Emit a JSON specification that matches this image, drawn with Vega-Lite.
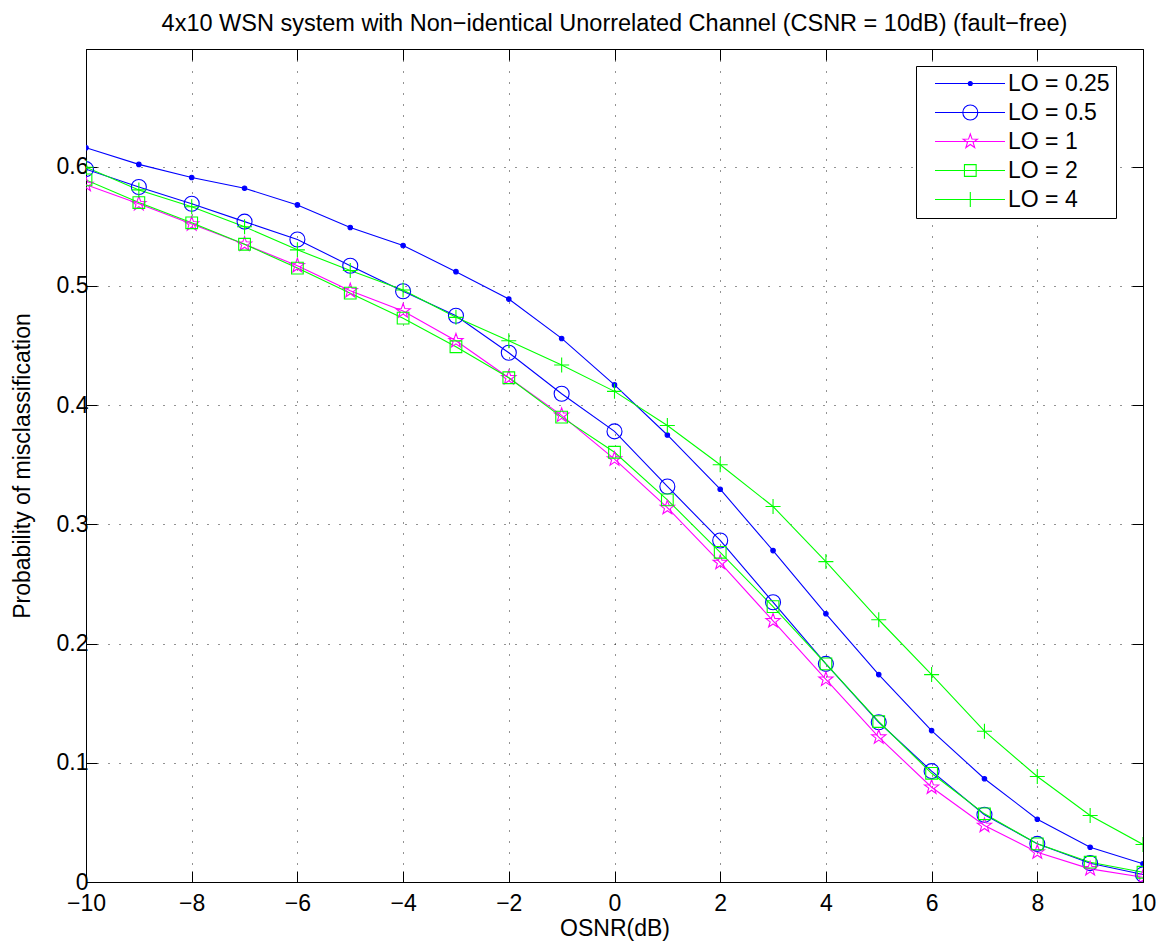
{
  "$schema": "https://vega.github.io/schema/vega-lite/v6.json",
  "width": 1057,
  "height": 833,
  "autosize": "none",
  "padding": {"left": 86, "top": 49, "right": 15, "bottom": 62},
  "background": "white",
  "title": {"text": "4x10 WSN system with Non\u2212identical Unorrelated Channel (CSNR = 10dB) (fault\u2212free)", "font": "Liberation Sans", "fontSize": 23.5, "fontWeight": "normal", "color": "#000", "anchor": "middle", "offset": 13},
  "config": {
    "view": {"stroke": "#000", "strokeWidth": 1},
    "axis": {"labelFont": "Liberation Sans", "labelFontSize": 23, "labelColor": "#000", "titleFont": "Liberation Sans", "titleFontSize": 23, "titleFontWeight": "normal", "titleColor": "#000", "domainColor": "#000", "tickColor": "#000", "tickSize": -11, "gridColor": "#000", "gridOpacity": 0.85, "gridDash": [1, 10], "gridWidth": 1}
  },
  "data": {"values": [
    {"x": -10, "y": 0.616, "s": "LO = 0.25"}, {"x": -9, "y": 0.602, "s": "LO = 0.25"}, {"x": -8, "y": 0.591, "s": "LO = 0.25"}, {"x": -7, "y": 0.582, "s": "LO = 0.25"}, {"x": -6, "y": 0.568, "s": "LO = 0.25"}, {"x": -5, "y": 0.549, "s": "LO = 0.25"}, {"x": -4, "y": 0.534, "s": "LO = 0.25"}, {"x": -3, "y": 0.512, "s": "LO = 0.25"}, {"x": -2, "y": 0.489, "s": "LO = 0.25"}, {"x": -1, "y": 0.456, "s": "LO = 0.25"}, {"x": 0, "y": 0.417, "s": "LO = 0.25"}, {"x": 1, "y": 0.375, "s": "LO = 0.25"}, {"x": 2, "y": 0.3295, "s": "LO = 0.25"}, {"x": 3, "y": 0.278, "s": "LO = 0.25"}, {"x": 4, "y": 0.225, "s": "LO = 0.25"}, {"x": 5, "y": 0.174, "s": "LO = 0.25"}, {"x": 6, "y": 0.127, "s": "LO = 0.25"}, {"x": 7, "y": 0.0866, "s": "LO = 0.25"}, {"x": 8, "y": 0.0527, "s": "LO = 0.25"}, {"x": 9, "y": 0.0292, "s": "LO = 0.25"}, {"x": 10, "y": 0.0153, "s": "LO = 0.25"},
    {"x": -10, "y": 0.598, "s": "LO = 0.5"}, {"x": -9, "y": 0.583, "s": "LO = 0.5"}, {"x": -8, "y": 0.569, "s": "LO = 0.5"}, {"x": -7, "y": 0.554, "s": "LO = 0.5"}, {"x": -6, "y": 0.539, "s": "LO = 0.5"}, {"x": -5, "y": 0.517, "s": "LO = 0.5"}, {"x": -4, "y": 0.4956, "s": "LO = 0.5"}, {"x": -3, "y": 0.475, "s": "LO = 0.5"}, {"x": -2, "y": 0.444, "s": "LO = 0.5"}, {"x": -1, "y": 0.4096, "s": "LO = 0.5"}, {"x": 0, "y": 0.378, "s": "LO = 0.5"}, {"x": 1, "y": 0.3318, "s": "LO = 0.5"}, {"x": 2, "y": 0.2865, "s": "LO = 0.5"}, {"x": 3, "y": 0.2347, "s": "LO = 0.5"}, {"x": 4, "y": 0.183, "s": "LO = 0.5"}, {"x": 5, "y": 0.134, "s": "LO = 0.5"}, {"x": 6, "y": 0.093, "s": "LO = 0.5"}, {"x": 7, "y": 0.0564, "s": "LO = 0.5"}, {"x": 8, "y": 0.032, "s": "LO = 0.5"}, {"x": 9, "y": 0.0158, "s": "LO = 0.5"}, {"x": 10, "y": 0.0063, "s": "LO = 0.5"},
    {"x": -10, "y": 0.585, "s": "LO = 1"}, {"x": -9, "y": 0.569, "s": "LO = 1"}, {"x": -8, "y": 0.552, "s": "LO = 1"}, {"x": -7, "y": 0.535, "s": "LO = 1"}, {"x": -6, "y": 0.517, "s": "LO = 1"}, {"x": -5, "y": 0.496, "s": "LO = 1"}, {"x": -4, "y": 0.479, "s": "LO = 1"}, {"x": -3, "y": 0.454, "s": "LO = 1"}, {"x": -2, "y": 0.423, "s": "LO = 1"}, {"x": -1, "y": 0.3915, "s": "LO = 1"}, {"x": 0, "y": 0.3548, "s": "LO = 1"}, {"x": 1, "y": 0.314, "s": "LO = 1"}, {"x": 2, "y": 0.268, "s": "LO = 1"}, {"x": 3, "y": 0.219, "s": "LO = 1"}, {"x": 4, "y": 0.170, "s": "LO = 1"}, {"x": 5, "y": 0.1215, "s": "LO = 1"}, {"x": 6, "y": 0.0795, "s": "LO = 1"}, {"x": 7, "y": 0.0474, "s": "LO = 1"}, {"x": 8, "y": 0.025, "s": "LO = 1"}, {"x": 9, "y": 0.011, "s": "LO = 1"}, {"x": 10, "y": 0.004, "s": "LO = 1"},
    {"x": -10, "y": 0.589, "s": "LO = 2"}, {"x": -9, "y": 0.570, "s": "LO = 2"}, {"x": -8, "y": 0.553, "s": "LO = 2"}, {"x": -7, "y": 0.535, "s": "LO = 2"}, {"x": -6, "y": 0.515, "s": "LO = 2"}, {"x": -5, "y": 0.494, "s": "LO = 2"}, {"x": -4, "y": 0.473, "s": "LO = 2"}, {"x": -3, "y": 0.449, "s": "LO = 2"}, {"x": -2, "y": 0.423, "s": "LO = 2"}, {"x": -1, "y": 0.390, "s": "LO = 2"}, {"x": 0, "y": 0.3605, "s": "LO = 2"}, {"x": 1, "y": 0.3206, "s": "LO = 2"}, {"x": 2, "y": 0.2766, "s": "LO = 2"}, {"x": 3, "y": 0.231, "s": "LO = 2"}, {"x": 4, "y": 0.183, "s": "LO = 2"}, {"x": 5, "y": 0.1346, "s": "LO = 2"}, {"x": 6, "y": 0.0912, "s": "LO = 2"}, {"x": 7, "y": 0.0572, "s": "LO = 2"}, {"x": 8, "y": 0.032, "s": "LO = 2"}, {"x": 9, "y": 0.0166, "s": "LO = 2"}, {"x": 10, "y": 0.0082, "s": "LO = 2"},
    {"x": -10, "y": 0.5996, "s": "LO = 4"}, {"x": -9, "y": 0.5806, "s": "LO = 4"}, {"x": -8, "y": 0.5665, "s": "LO = 4"}, {"x": -7, "y": 0.5497, "s": "LO = 4"}, {"x": -6, "y": 0.5303, "s": "LO = 4"}, {"x": -5, "y": 0.513, "s": "LO = 4"}, {"x": -4, "y": 0.4966, "s": "LO = 4"}, {"x": -3, "y": 0.4737, "s": "LO = 4"}, {"x": -2, "y": 0.454, "s": "LO = 4"}, {"x": -1, "y": 0.4337, "s": "LO = 4"}, {"x": 0, "y": 0.4116, "s": "LO = 4"}, {"x": 1, "y": 0.383, "s": "LO = 4"}, {"x": 2, "y": 0.350, "s": "LO = 4"}, {"x": 3, "y": 0.315, "s": "LO = 4"}, {"x": 4, "y": 0.2688, "s": "LO = 4"}, {"x": 5, "y": 0.220, "s": "LO = 4"}, {"x": 6, "y": 0.174, "s": "LO = 4"}, {"x": 7, "y": 0.1265, "s": "LO = 4"}, {"x": 8, "y": 0.0885, "s": "LO = 4"}, {"x": 9, "y": 0.0558, "s": "LO = 4"}, {"x": 10, "y": 0.0315, "s": "LO = 4"}
  ]},
  "layer": [
    {
      "mark": {"type": "line", "strokeWidth": 1.1, "clip": true},
      "encoding": {
        "x": {"field": "x", "type": "quantitative", "scale": {"domain": [-10, 10], "nice": false, "zero": false}, "axis": {"orient": "bottom", "title": "OSNR(dB)", "values": [-10, -8, -6, -4, -2, 0, 2, 4, 6, 8, 10], "labelPadding": 21, "titlePadding": 2, "labelFlush": false}},
        "y": {"field": "y", "type": "quantitative", "scale": {"domain": [0, 0.6988], "nice": false}, "axis": {"orient": "left", "title": "Probability of misclassification", "values": [0, 0.1, 0.2, 0.3, 0.4, 0.5, 0.6], "format": "~g", "labelPadding": 9, "titlePadding": 22, "labelFlush": false}},
        "color": {"field": "s", "type": "nominal", "legend": null, "scale": {"domain": ["LO = 0.25", "LO = 0.5", "LO = 1", "LO = 2", "LO = 4"], "range": ["#0000ff", "#0000ff", "#ff00ff", "#00ff00", "#00ff00"]}}
      }
    },
    {
      "mark": {"type": "point", "filled": false, "size": 225, "strokeWidth": 1.1, "opacity": 1, "clip": true},
      "encoding": {
        "x": {"field": "x", "type": "quantitative", "axis": {"orient": "top", "title": null, "labels": false, "grid": false, "domain": false, "values": [-10, -8, -6, -4, -2, 0, 2, 4, 6, 8, 10]}},
        "y": {"field": "y", "type": "quantitative", "axis": {"orient": "right", "title": null, "labels": false, "grid": false, "domain": false, "values": [0, 0.1, 0.2, 0.3, 0.4, 0.5, 0.6]}},
        "shape": {"field": "s", "type": "nominal", "legend": null, "scale": {"domain": ["LO = 0.25", "LO = 0.5", "LO = 1", "LO = 2", "LO = 4"], "range": ["M0.3,0A0.3,0.3 0 1,1 -0.3,0A0.3,0.3 0 1,1 0.3,0Z", "circle", "M0,-1L0.235,-0.324L0.951,-0.309L0.38,0.124L0.588,0.809L0,0.4L-0.588,0.809L-0.38,0.124L-0.951,-0.309L-0.235,-0.324Z", "M-0.78,-0.78L0.78,-0.78L0.78,0.78L-0.78,0.78Z", "M-1,0L1,0M0,-1L0,1"]}},
        "stroke": {"field": "s", "type": "nominal", "legend": null, "scale": {"domain": ["LO = 0.25", "LO = 0.5", "LO = 1", "LO = 2", "LO = 4"], "range": ["#0000ff", "#0000ff", "#ff00ff", "#00ff00", "#00ff00"]}},
        "fill": {"field": "s", "type": "nominal", "legend": null, "scale": {"domain": ["LO = 0.25", "LO = 0.5", "LO = 1", "LO = 2", "LO = 4"], "range": ["#0000ff", "transparent", "transparent", "transparent", "transparent"]}}
      }
    },
    {
      "transform": [{"filter": "datum.x > 100"}],
      "mark": {"type": "point", "filled": false, "strokeWidth": 1.1, "opacity": 1},
      "encoding": {
        "x": {"field": "x", "type": "quantitative", "axis": null},
        "y": {"field": "y", "type": "quantitative", "axis": null},
        "shape": {"field": "s", "type": "nominal", "title": null,
          "scale": {"domain": ["LO = 0.25", "LO = 0.5", "LO = 1", "LO = 2", "LO = 4"], "range": [
            "M0.3,0L14.3,0M7.76,0A0.4,0.4 0 1,1 6.96,0A0.4,0.4 0 1,1 7.76,0Z",
            "M0.3,0L14.3,0M8.86,0A1.5,1.5 0 1,1 5.86,0A1.5,1.5 0 1,1 8.86,0Z",
            "M0.3,0L14.3,0M7.36,-1.5L7.713,-0.485L8.787,-0.464L7.931,0.185L8.242,1.214L7.36,0.6L6.478,1.214L6.789,0.185L5.933,-0.464L7.007,-0.485Z",
            "M0.3,0L14.3,0M6.19,-1.17L8.53,-1.17L8.53,1.17L6.19,1.17Z",
            "M0.3,0L14.3,0M7.36,-1.5L7.36,1.5"]},
          "legend": {"title": null, "orient": "none", "legendX": 830, "legendY": 17, "fillColor": "white", "strokeColor": "#000", "padding": 6, "labelFont": "Liberation Sans", "labelFontSize": 23, "labelColor": "#000", "symbolSize": 100, "symbolStrokeWidth": 1.1, "labelOffset": 63, "rowPadding": 5}},
        "stroke": {"field": "s", "type": "nominal", "title": null, "scale": {"domain": ["LO = 0.25", "LO = 0.5", "LO = 1", "LO = 2", "LO = 4"], "range": ["#0000ff", "#0000ff", "#ff00ff", "#00ff00", "#00ff00"]},
          "legend": {"title": null, "orient": "none", "legendX": 830, "legendY": 17, "fillColor": "white", "strokeColor": "#000", "padding": 6, "labelFont": "Liberation Sans", "labelFontSize": 23, "labelColor": "#000", "symbolSize": 100, "symbolStrokeWidth": 1.1, "labelOffset": 63, "rowPadding": 5}},
        "fill": {"field": "s", "type": "nominal", "title": null, "scale": {"domain": ["LO = 0.25", "LO = 0.5", "LO = 1", "LO = 2", "LO = 4"], "range": ["#0000ff", "transparent", "transparent", "transparent", "transparent"]},
          "legend": {"title": null, "orient": "none", "legendX": 830, "legendY": 17, "fillColor": "white", "strokeColor": "#000", "padding": 6, "labelFont": "Liberation Sans", "labelFontSize": 23, "labelColor": "#000", "symbolSize": 100, "symbolStrokeWidth": 1.1, "labelOffset": 63, "rowPadding": 5}}
      }
    }
  ],
  "resolve": {"axis": {"x": "independent", "y": "independent"}, "scale": {"shape": "independent", "stroke": "independent", "fill": "independent"}}
}
